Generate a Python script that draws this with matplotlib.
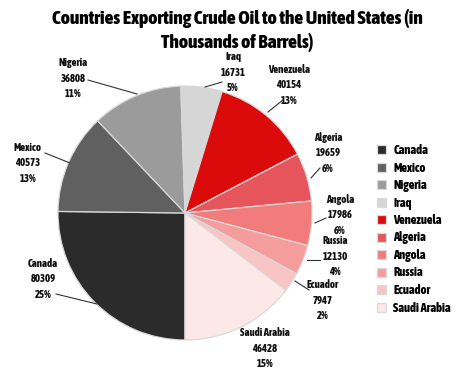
import matplotlib
matplotlib.use("Agg")
import matplotlib.pyplot as plt
from matplotlib import font_manager

countries = ["Canada", "Mexico", "Nigeria", "Iraq", "Venezuela", "Algeria",
             "Angola", "Russia", "Ecuador", "Saudi Arabia"]
barrels = [80309, 40573, 36808, 16731, 40154, 19659, 17986, 12130, 7947, 46428]
percents = ["25%", "13%", "11%", "5%", "13%", "6%", "6%", "4%", "2%", "15%"]
colors = ["#2b2b2b", "#606060", "#9b9b9b", "#d6d6d6", "#dc0b0b", "#e6555b",
          "#f27c7c", "#f59c9c", "#f8c4c4", "#fde8e8"]
title1 = "Countries Exporting Crude Oil to the United States (in"
title2 = "Thousands of Barrels)"

def _w(f):
    w = f.weight
    if isinstance(w, str):
        return {"bold": 700, "heavy": 800, "black": 900, "extra bold": 800,
                "demibold": 600, "semibold": 600}.get(w, 400)
    return w

W, H = 474, 370
fig = plt.figure(figsize=(W / 100, H / 100), dpi=100)
renderer = fig.canvas.get_renderer()

def width(s, p):
    return renderer.get_text_width_height_descent(s, p, ismath=False)[0]

cands = [f for f in font_manager.fontManager.ttflist
         if _w(f) >= 600 and "Mono" not in f.name
         and ("Narrow" in f.name or "Condensed" in f.name
              or str(f.stretch) in ("condensed", "semi-condensed"))]
props = [font_manager.FontProperties(fname=f.fname, size=14) for f in cands]
props.append(font_manager.FontProperties(family="Roboto", weight="bold", size=14))
best = min(props, key=lambda p: abs(width(title1, p) - 371))

def fitted(s, target_px, lo, hi):
    p = best.copy()
    p.set_size(10)
    size = max(lo, min(hi, 10 * target_px / width(s, p)))
    p.set_size(size)
    return p

tprop = fitted(title1, 371, 12, 15)
lprop = fitted("Saudi Arabia", 49, 6.3, 8)
gprop = fitted("Saudi Arabia", 70, 7.5, 9)

cx, cy, R = 185, 213, 127
ax = fig.add_axes([0, 0, 1, 1])
wedges, _ = ax.pie(barrels, colors=colors, startangle=270, counterclock=False,
                   radius=1, center=(0, 0), frame=True,
                   wedgeprops=dict(edgecolor="#d9d9d9", linewidth=0.9))
ax.set_xlim(-cx / R, (W - cx) / R)
ax.set_ylim(-(H - cy) / R, cy / R)
ax.axis("off")

def px(x, y):
    return ((x - cx) / R, (cy - y) / R)

layout = {
    "Canada": ((43, 279), (56, 294), (97, 304)),
    "Mexico": ((28, 163), (45, 153), (70, 163)),
    "Nigeria": ((73, 78), (88, 80), (137, 94)),
    "Iraq": ((233, 72), (222, 82), (205, 87)),
    "Venezuela": ((289, 85), (283, 100), (268, 112)),
    "Algeria": ((328, 153), (320, 168), (311, 178)),
    "Angola": ((340, 215), (326, 218), (315, 223)),
    "Russia": ((335, 256), (320, 260), (307, 260)),
    "Ecuador": ((323, 300), (309, 290), (295, 281)),
    "Saudi Arabia": ((265, 348), None, None),
}
for name, val, pct in zip(countries, barrels, percents):
    tpos, l0, l1 = layout[name]
    ax.text(*px(*tpos), f"{name}\n{val}\n{pct}", ha="center", va="center",
            fontproperties=lprop, linespacing=1.45, color="#111111")
    if l0 is not None:
        ax.plot(*zip(px(*l0), px(*l1)), color="#333333", lw=0.8)

fig.text(0.5, 1 - 18 / H, title1, ha="center", va="center", fontproperties=tprop)
fig.text(0.5, 1 - 43 / H, title2, ha="center", va="center", fontproperties=tprop)

fig.legend(wedges, countries, loc="upper left",
           bbox_to_anchor=(377 / W, 1 - 144 / H), frameon=False,
           prop=gprop,
           handlelength=0.7, handleheight=0.7, handletextpad=0.6,
           labelspacing=0.36, borderaxespad=0, borderpad=0)

fig.savefig("out.png", dpi=100)
